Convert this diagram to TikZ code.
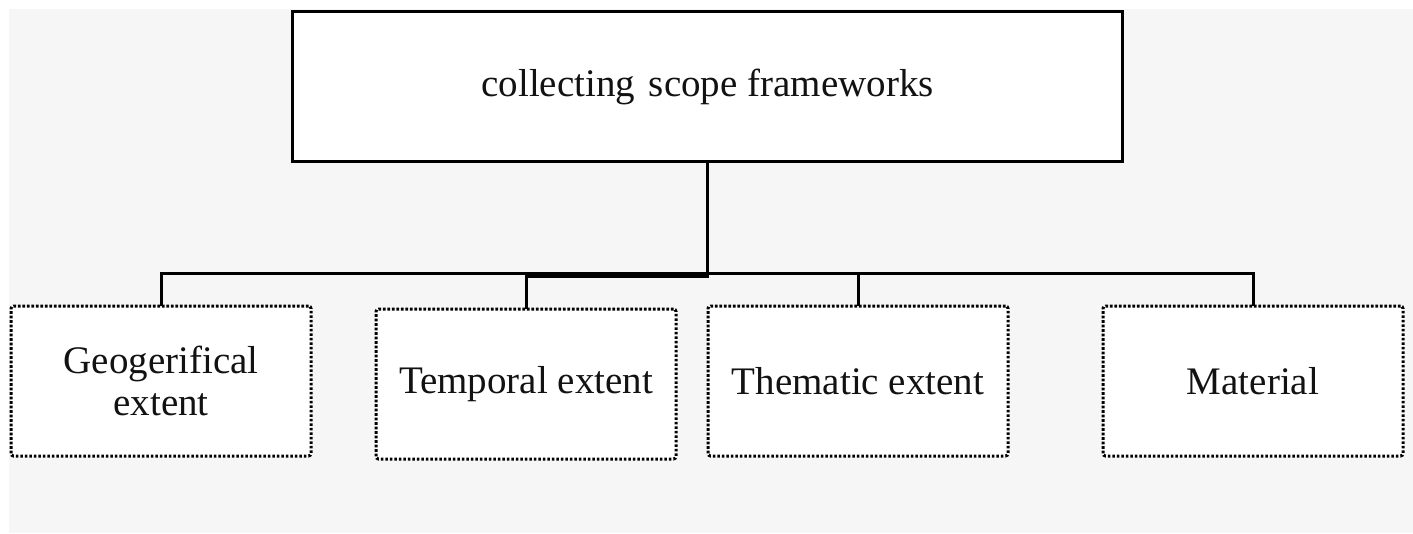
\documentclass[tikz,border=0pt]{standalone}
\usepackage{fontspec}
\setmainfont{Liberation Serif}
\begin{document}
\begin{tikzpicture}[x=1pt,y=-1pt,
  every node/.style={inner sep=0pt, outer sep=0pt, align=center, text=black!93,
    font=\fontsize{39}{42}\selectfont},
  rootbox/.style={draw=black, line width=3pt, fill=white,
    minimum width=830pt, minimum height=150pt},
  leafbox/.style={draw=black, line width=3pt, fill=white,
    dash pattern=on 2.6pt off 1.9pt, rounded corners=2.5pt,
    minimum width=300pt, minimum height=150pt},
  conn/.style={draw=black, line width=3pt}]
  % page and panel background
  \fill[white] (0,0) rectangle (1413,533);
  \fill[black!3.5] (9,9) rectangle (1413,533);
  \useasboundingbox (0,0) rectangle (1413,533);

  % boxes
  \node[rootbox] (root) at (707.5,86.5) {collecting\hspace{0.35em}scope frameworks};
  \node[leafbox] (geo) at (161,381) {Geogerifical\\extent};
  \node[leafbox] (tmp) at (526,384) {\raisebox{-2pt}{Temporal extent}};
  \node[leafbox] (thm) at (858,381) {Thematic extent};
  \node[leafbox] (mat) at (1253,381) {Material};

  % bus level for the connectors
  \coordinate (bus) at (0,273);

  % connectors
  \draw[conn] (root.south) -- ++(0,114.5) -| (tmp.north);
  \draw[conn] (geo.north) -- (geo.north |- bus) -- (mat.north |- bus) -- (mat.north);
  \draw[conn] (thm.north) -- (thm.north |- bus);
\end{tikzpicture}
\end{document}
